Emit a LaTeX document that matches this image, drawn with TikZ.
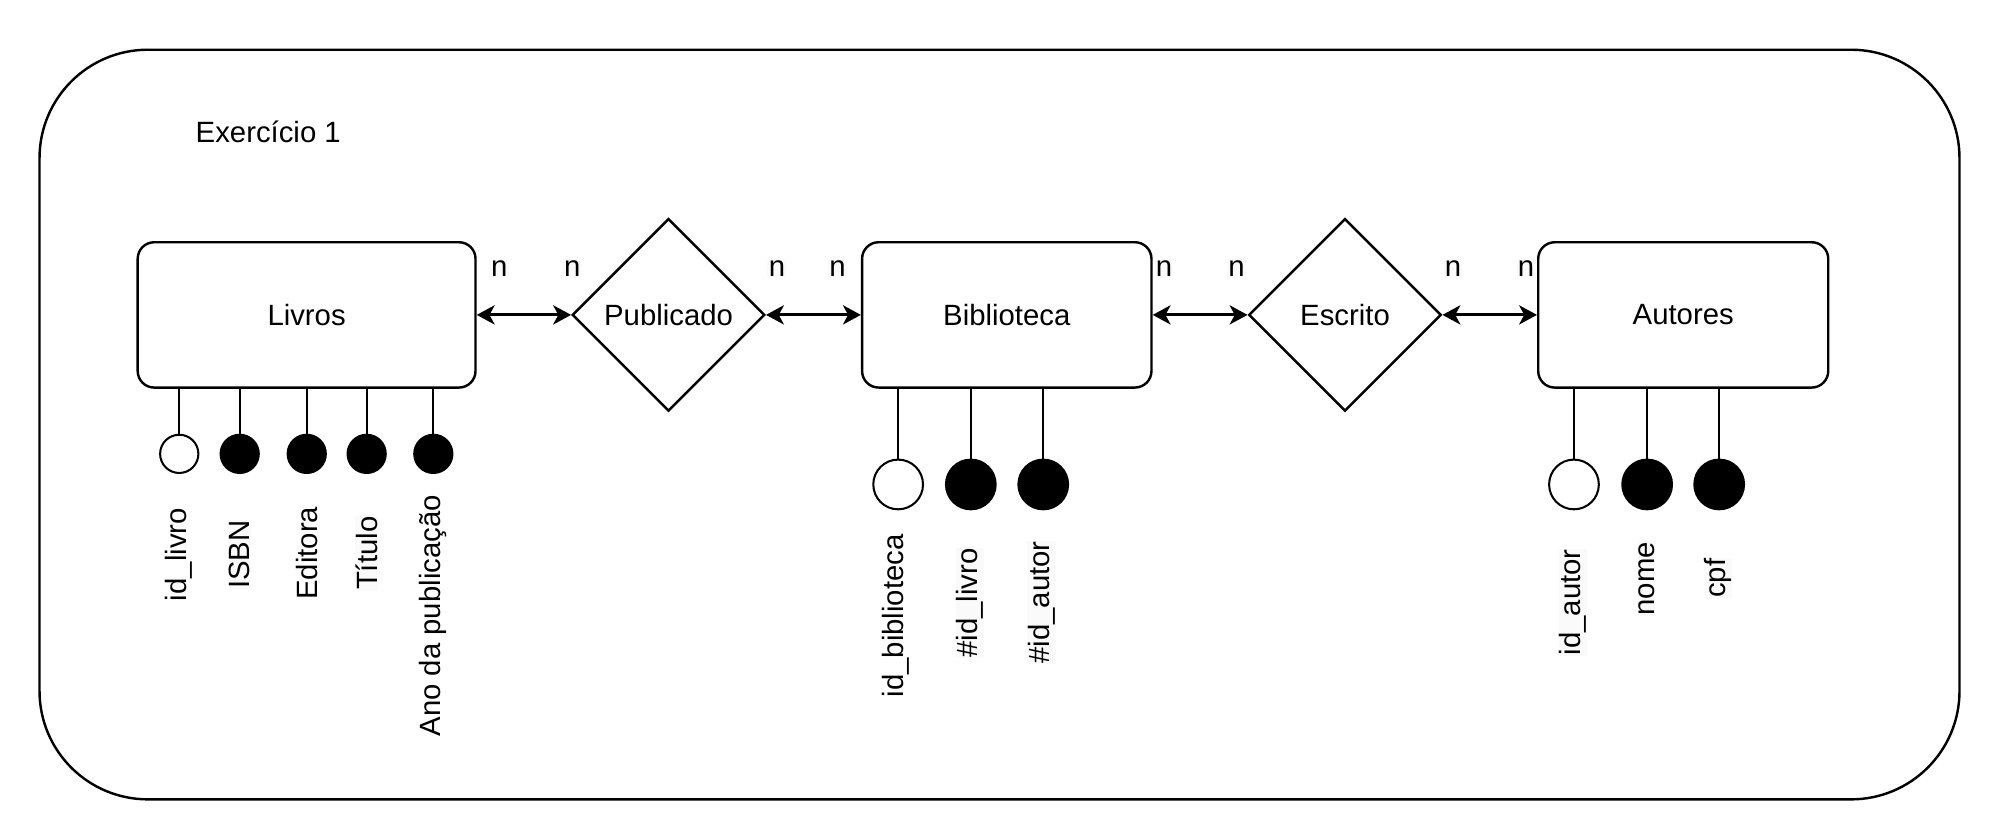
\documentclass[tikz,border=0pt]{standalone}
\usepackage{fontspec}
\setmainfont{Liberation Sans}
\usetikzlibrary{shapes.geometric,arrows.meta}
\begin{document}
\begin{tikzpicture}[x=1pt,y=-1pt,
  every node/.style={font=\fontsize{23}{27}\selectfont},
  frame/.style={draw, line width=1.9pt, rounded corners=85pt, inner sep=0},
  entity/.style={draw, line width=1.9pt, rounded corners=13pt, minimum height=114pt, inner sep=0},
  rel/.style={diamond, draw, line width=1.9pt, aspect=1, minimum width=151pt, minimum height=151pt, inner sep=0},
  keyattr/.style={circle, draw, line width=1.6pt, fill=white, inner sep=0},
  plainattr/.style={circle, draw, line width=1.6pt, fill=black, inner sep=0},
  small/.style={minimum size=30pt},
  big/.style={minimum size=39pt},
  attrline/.style={line width=1.6pt},
  conn/.style={line width=2.4pt, {Stealth[length=14pt,width=15pt,inset=4pt]}-{Stealth[length=14pt,width=15pt,inset=4pt]}},
  lab/.style={rotate=90, inner sep=0.5pt},
  hl/.style={fill=black!2},
  nlab/.style={fill=black!2, inner xsep=1pt, inner ysep=1pt}
]
\useasboundingbox (0,0) rectangle (1568,653);

\node[frame, minimum width=1506pt, minimum height=588pt] (outer) at (784,333) {};
\node[anchor=base west] (title) at (150,112) {Exercício 1};

% entities and relationships
\node[entity, minimum width=265pt] (livros) at (240.5,247) {Livros};
\node[entity, minimum width=227pt] (bib) at (789.7,247) {Biblioteca};
\node[entity, minimum width=227.5pt] (aut) at (1320.3,247) {Autores};
\node[rel] (pub) at (524.4,247) {Publicado};
\node[rel] (esc) at (1055,247) {Escrito};

% connectors
\draw[conn] (livros.east) -- (pub.west);
\draw[conn] (pub.east) -- (bib.west);
\draw[conn] (bib.east) -- (esc.west);
\draw[conn] (esc.east) -- (aut.west);

% cardinality labels
\node[nlab] (n1) at (391.6,210.5) {n};
\node[nlab] (n2) at (448.8,210.5) {n};
\node[nlab] (n3) at (609.4,210.5) {n};
\node[nlab] (n4) at (657,210.5) {n};
\node[nlab] (n5) at (913,210.5) {n};
\node[nlab] (n6) at (970,210.5) {n};
\node[nlab] (n7) at (1139.8,210.5) {n};
\node[nlab] (n8) at (1197,210.5) {n};

% Livros attributes
\node[keyattr, small] (l1) at (140.6,356) {};
\node[plainattr, small] (l2) at (188,356) {};
\node[plainattr, small] (l3) at (240.6,356) {};
\node[plainattr, small] (l4) at (287.6,356) {};
\node[plainattr, small] (l5) at (339.9,356) {};
\foreach \a in {l1,l2,l3,l4,l5} \draw[attrline] (livros.south -| \a) -- (\a.north);
\node[lab] (tl1) at (140,435) {id\_livro};
\node[lab, hl] (tl2) at (188,435) {ISBN};
\node[lab] (tl3) at (240.6,434) {Editora};
\node[lab, hl] (tl4) at (287.6,434) {Título};
\node[lab] (tl5) at (339.9,483) {Ano da publicação};

% Biblioteca attributes
\node[keyattr, big] (b1) at (704.5,380) {};
\node[plainattr, big] (b2) at (761.5,380) {};
\node[plainattr, big] (b3) at (818.3,380) {};
\foreach \a in {b1,b2,b3} \draw[attrline] (bib.south -| \a) -- (\a.north);
\node[lab] (tb1) at (703,483) {id\_biblioteca};
\node[lab, hl] (tb2) at (761,473) {\#id\_livro};
\node[lab, hl] (tb3) at (817,472.5) {\#id\_autor};

% Autores attributes
\node[keyattr, big] (a1) at (1234.6,380) {};
\node[plainattr, big] (a2) at (1292,380) {};
\node[plainattr, big] (a3) at (1348.5,380) {};
\foreach \a in {a1,a2,a3} \draw[attrline] (aut.south -| \a) -- (\a.north);
\node[lab, hl] (ta1) at (1234,472.5) {id\_autor};
\node[lab, hl] (ta2) at (1291.6,454) {nome};
\node[lab, hl] (ta3) at (1347.6,453.5) {cpf};
\end{tikzpicture}
\end{document}
